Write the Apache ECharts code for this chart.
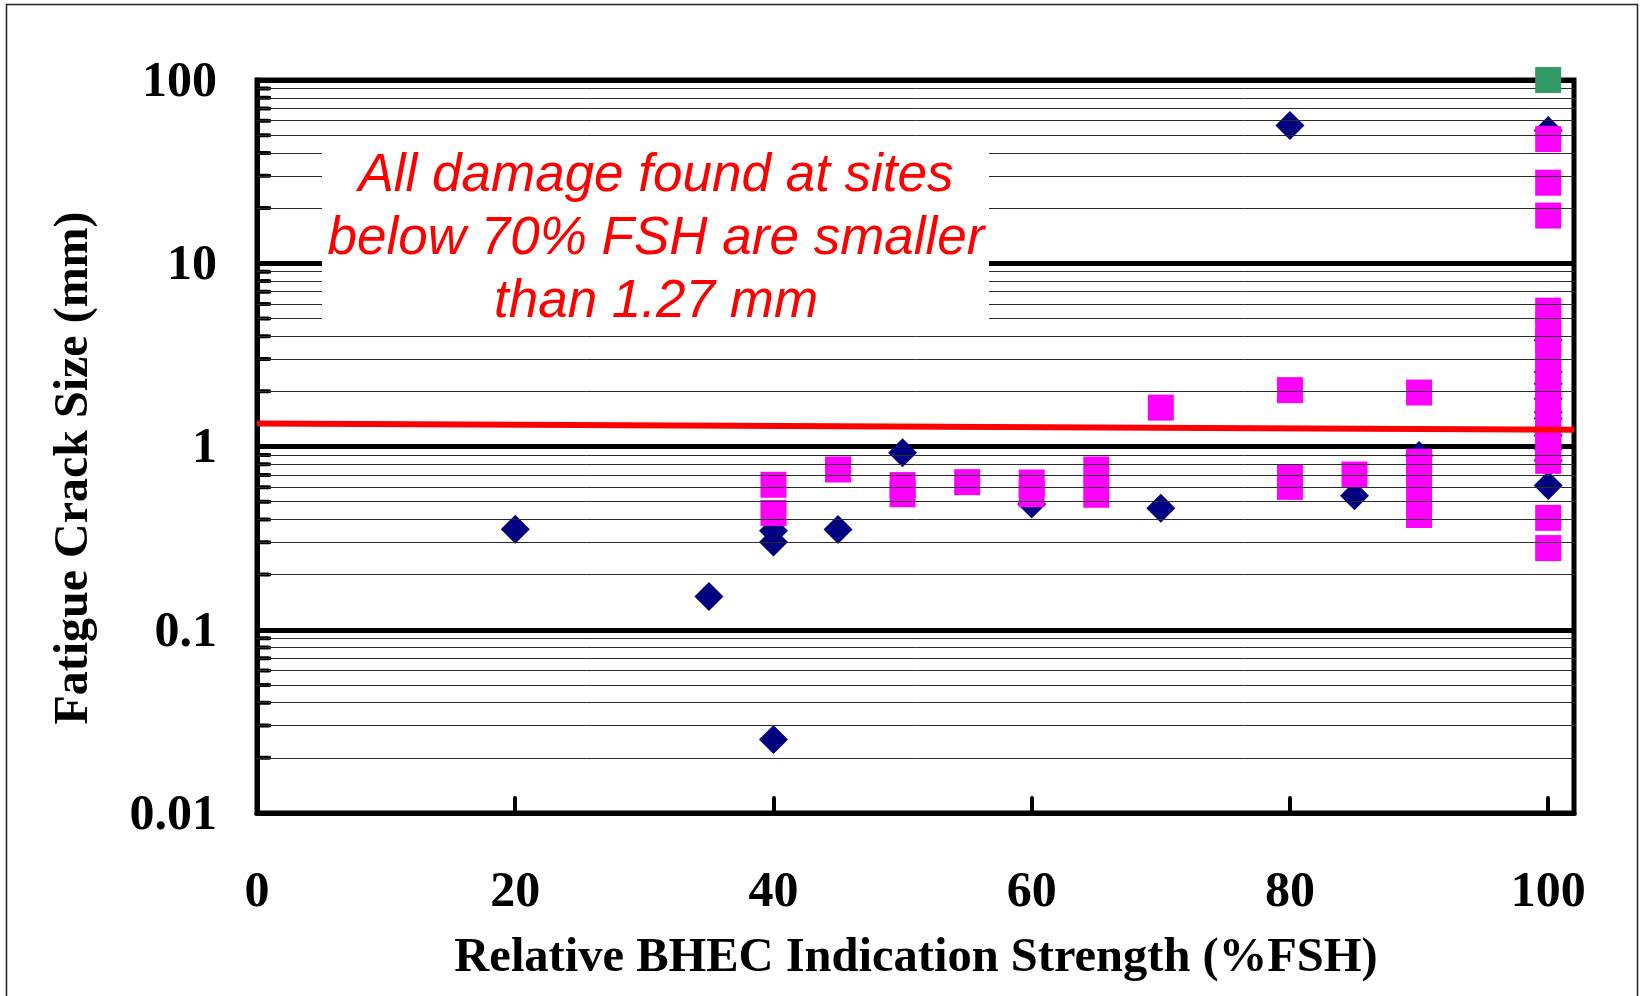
<!DOCTYPE html>
<html>
<head>
<meta charset="utf-8">
<title>Fatigue Crack Size vs Relative BHEC Indication Strength</title>
<script src="https://cdn.jsdelivr.net/npm/echarts@6/dist/echarts.min.js"></script>
<style>
  html, body { margin: 0; padding: 0; background: #fff; }
  #chart { width: 1640px; height: 996px; }
</style>
</head>
<body>
<div id="chart"></div>
<script>
// values
const xTicks = [0, 20, 40, 60, 80, 100]
const yTicks = [0.01, 0.1, 1, 10, 100]
const decades = [0.01, 0.1, 1, 10]
const minorSteps = [2, 3, 4, 5, 6, 7, 8, 9]

// navy diamonds
const diamondX = [20, 35, 40, 40, 40, 45, 50, 60, 70, 80, 85, 90,
  100, 100, 100, 100, 100, 100, 100, 100, 100, 100, 100]
const diamondY = [0.354, 0.152, 0.347, 0.301, 0.0252, 0.352, 0.924, 0.486, 0.46, 56.5, 0.538, 0.893,
  0.612, 53, 3.8, 2.55, 2.2, 1.82, 1.54, 1.42, 1.15, 0.97, 0.84]

// magenta squares
const squareX = [40, 40, 45, 50, 50, 55, 60, 60, 65, 65, 70, 80, 80, 80, 85,
  90, 90, 90, 90, 90,
  100, 100, 100, 100, 100, 100, 100, 100, 100, 100, 100, 100, 100, 100, 100, 100]
const squareY = [0.618, 0.434, 0.749, 0.616, 0.549, 0.639, 0.636, 0.549, 0.749, 0.545, 1.63, 2.03, 0.674, 0.602, 0.703,
  1.97, 0.825, 0.666, 0.531, 0.423,
  47.6, 27.5, 18.2, 5.51, 4.57, 3.78, 3.13, 2.59, 2.15, 1.78, 1.47, 1.22, 1.01, 0.835, 0.408, 0.279]

// green square
const greenX = [100]
const greenY = [100]

// red limit line
const limitX = [0, 102]
const limitY = [1.335, 1.235]

const note = ['All damage found at sites', 'below 70% FSH are smaller', 'than 1.27 mm']

const zip = (xs, ys) => xs.map((x, i) => [x, ys[i]])
const minorValues = []
decades.forEach(d => minorSteps.forEach(s => minorValues.push(+(d * s).toPrecision(3))))

const serif = 'Liberation Serif'
const labelStyle = {
  color: '#000',
  fontFamily: serif,
  fontWeight: 'bold',
  fontSize: 50,
}

const myChart = echarts.init(document.getElementById('chart'))

let option = {
  animation: false,
  backgroundColor: '#fff',
  grid: {
    left: 257,
    right: 66,
    top: 80,
    bottom: 183,
    show: true,
    borderColor: '#000',
    borderWidth: 5,
  },
  xAxis: {
    type: 'value',
    min: 0,
    max: 102,
    interval: 20,
    axisLine: { show: true, lineStyle: { color: '#000', width: 5 } },
    axisTick: {
      show: true,
      inside: true,
      length: 15,
      lineStyle: { color: '#000', width: 4, cap: 'round' },
    },
    axisLabel: {
      ...labelStyle,
      margin: 55,
      formatter: v => (xTicks.includes(v) ? String(v) : ''),
    },
    splitLine: { show: false },
  },
  yAxis: {
    type: 'log',
    logBase: 10,
    min: 0.01,
    max: 100,
    axisLine: { show: true, lineStyle: { color: '#000', width: 5 } },
    axisTick: { show: false },
    axisLabel: {
      ...labelStyle,
      margin: 40,
      verticalAlign: 'top',
      lineHeight: 6,
      formatter: v => {
        let t = yTicks.find(t => Math.abs(Math.log10(t) - Math.log10(v)) < 1e-6)
        return t === undefined ? '' : String(t)
      },
    },
    splitLine: { show: true, lineStyle: { color: '#000', width: 5 } },
  },
  series: [
    {
      // minor grid lines
      name: 'minorGrid',
      type: 'line',
      data: [],
      z: 1,
      silent: true,
      markLine: {
        silent: true,
        symbol: 'none',
        label: { show: false },
        lineStyle: { color: '#2a2a2a', width: 1, type: 'solid' },
        data: minorValues.map(v => ({ yAxis: v })),
      },
    },
    {
      // short inside ticks on the y axis
      name: 'minorTicks',
      type: 'scatter',
      data: minorValues.map(v => [0, v]),
      symbol: 'roundRect',
      symbolSize: [14, 4],
      symbolOffset: [7, 0],
      itemStyle: { color: '#000', opacity: 1 },
      silent: true,
      z: 3,
    },
    {
      name: 'diamonds',
      type: 'scatter',
      data: zip(diamondX, diamondY),
      symbol: 'diamond',
      symbolSize: 29,
      itemStyle: { color: '#000080', opacity: 1 },
      z: 3,
    },
    {
      name: 'squares',
      type: 'scatter',
      data: zip(squareX, squareY),
      symbol: 'rect',
      symbolSize: 26,
      itemStyle: { color: '#ff00ff', opacity: 1 },
      z: 4,
    },
    {
      name: 'green',
      type: 'scatter',
      data: zip(greenX, greenY),
      symbol: 'rect',
      symbolSize: 26,
      itemStyle: { color: '#339966', opacity: 1 },
      z: 5,
    },
    {
      name: 'limit',
      type: 'line',
      data: zip(limitX, limitY),
      showSymbol: false,
      symbol: 'none',
      lineStyle: { color: '#ff0000', width: 6 },
      z: 6,
    },
  ],
  graphic: [
    {
      type: 'rect',
      z: 10,
      shape: { x: 322, y: 145, width: 667, height: 186 },
      style: { fill: '#fff' },
    },
    {
      type: 'text',
      z: 11,
      x: 656,
      y: 239,
      style: {
        text: note.join('\n'),
        fill: '#ff0000',
        font: 'italic 53px "Liberation Sans"',
        lineHeight: 63,
        align: 'center',
        verticalAlign: 'middle',
      },
    },
    {
      type: 'text',
      z: 11,
      x: 75,
      y: 468,
      rotation: Math.PI / 2,
      style: {
        text: 'Fatigue Crack Size (mm)',
        fill: '#000',
        font: 'bold 48px "Liberation Serif"',
        align: 'center',
        verticalAlign: 'middle',
      },
    },
    {
      type: 'text',
      z: 11,
      x: 916,
      y: 958,
      style: {
        text: 'Relative BHEC Indication Strength (%FSH)',
        fill: '#000',
        font: 'bold 48.5px "Liberation Serif"',
        align: 'center',
        verticalAlign: 'middle',
      },
    },
    {
      // outer frame of the figure
      type: 'rect',
      z: 11,
      shape: { x: 6.5, y: 4.5, width: 1631, height: 1000 },
      style: { fill: 'none', stroke: '#222', lineWidth: 1.5 },
    },
  ],
}

myChart.setOption(option)
</script>
</body>
</html>
